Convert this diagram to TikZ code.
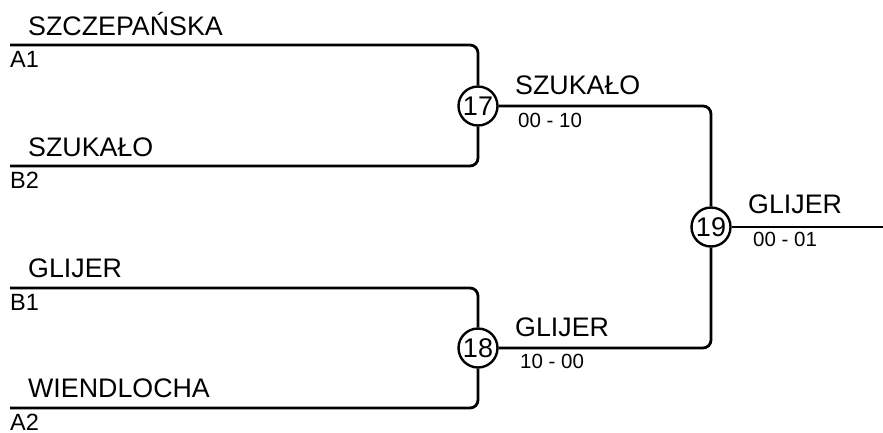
\documentclass[tikz,border=0pt]{standalone}
\usepackage{fontspec}
\setmainfont{Liberation Sans}

\begin{document}
\begin{tikzpicture}[x=1pt,y=-1pt,
    line/.style={line width=2.8pt,rounded corners=8pt},
    match/.style={circle,draw,line width=2.4pt,minimum size=39pt,inner sep=0pt,fill=white,font=\fontsize{27}{27}\selectfont},
    player/.style={anchor=base west,inner sep=0pt,font=\fontsize{26.8}{27}\selectfont},
    seed/.style={anchor=base west,inner sep=0pt,font=\fontsize{23.5}{24}\selectfont},
    score/.style={anchor=base west,inner sep=0pt,font=\fontsize{20.5}{21}\selectfont}]
    \useasboundingbox (0,0) rectangle (883,432);
    \node[match] (m17) at (478,106) {17};
    \node[match] (m18) at (478,348) {18};
    \node[match] (m19) at (711,227) {19};
    \coordinate (a1) at (10,45);
    \coordinate (b2) at (10,166);
    \coordinate (b1) at (10,288);
    \coordinate (a2) at (10,408);
    \coordinate (fin) at (883,227);
    \draw[line] (a1) -| (m17);
    \draw[line] (b2) -| (m17);
    \draw[line] (b1) -| (m18);
    \draw[line] (a2) -| (m18);
    \draw[line] (m17) -| (m19);
    \draw[line] (m18) -| (m19);
    \draw[line] (m19) -- (fin);
    \node[player] (pa1) at (28,35) {SZCZEPAŃSKA};
    \node[seed] (sa1) at (10,67) {A1};
    \node[player] (pb2) at (28,156) {SZUKAŁO};
    \node[seed] (sb2) at (10,188) {B2};
    \node[player] (pb1) at (28,277) {GLIJER};
    \node[seed] (sb1) at (10,310) {B1};
    \node[player] (pa2) at (28,397) {WIENDLOCHA};
    \node[seed] (sa2) at (10,430) {A2};
    \node[player] (w17) at (515,94) {SZUKAŁO};
    \node[score] (s17) at (518,127) {00 - 10};
    \node[player] (w18) at (515,336) {GLIJER};
    \node[score] (s18) at (520,368) {10 - 00};
    \node[player] (w19) at (748,213) {GLIJER};
    \node[score] (s19) at (753,246) {00 - 01};
\end{tikzpicture}
\end{document}
